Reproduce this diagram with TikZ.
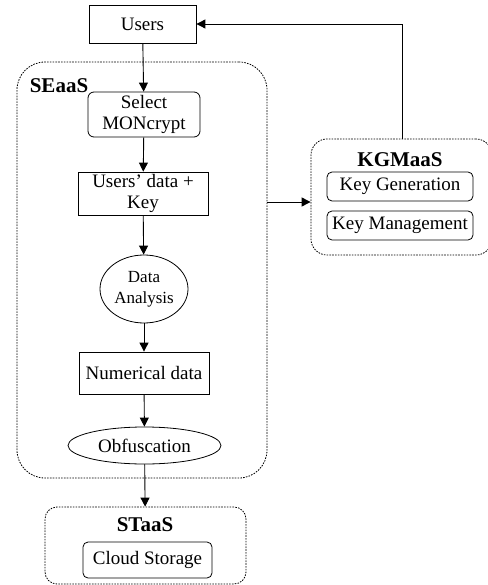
\documentclass[tikz,border=0pt]{standalone}
\usepackage{fontspec}
\setmainfont{Liberation Serif}
\usetikzlibrary{arrows.meta}
\usetikzlibrary{fit}
\usetikzlibrary{positioning}
\usetikzlibrary{shapes.geometric}

\tikzset{
  proc/.style={draw,rectangle,align=center,inner sep=1pt,font=\fontsize{19}{21}\selectfont},
  rproc/.style={proc,rounded corners=6pt},
  ellip/.style={draw,ellipse,align=center,inner sep=0pt,font=\fontsize{19}{21}\selectfont},
  group/.style={draw,dash pattern=on 1.6pt off 1.2pt,rectangle,inner sep=0pt},
  grouplab/.style={font=\fontsize{21}{23}\selectfont\bfseries},
  flow/.style={draw,line width=0.9pt,->,>={Triangle[length=9pt,width=9pt]}}
}

\begin{document}
\begin{tikzpicture}[x=1pt,y=1pt,line width=0.8pt]

  \useasboundingbox (0,0) rectangle (487,-585);

  % corners of the service groups
  \coordinate (se_nw) at (17,-62);
  \coordinate (se_se) at (267,-478);
  \coordinate (st_nw) at (45,-507);
  \coordinate (st_se) at (246,-584);
  \coordinate (kg_nw) at (311,-139);
  \coordinate (kg_se) at (492,-255);

  \node [group,rounded corners=28pt,fit=(se_nw) (se_se)] (seaas) {};
  \node [group,rounded corners=12pt,fit=(st_nw) (st_se)] (staas) {};
  \node [group,rounded corners=16pt,fit=(kg_nw) (kg_se)] (kgmaas) {};

  \node [grouplab] (seaaslab) at (59,-86) {SEaaS};
  \node [grouplab] (staaslab) at (145,-525) {STaaS};
  \node [grouplab] (kgmaaslab) at (400,-160) {KGMaaS};

  \node [proc,minimum width=107pt,minimum height=38pt] (users) at (142.5,-24) {Users};
  \node [rproc,minimum width=112pt,minimum height=45pt] (select) at (144,-114.5) {Select\\MONcrypt};
  \node [proc,minimum width=130pt,minimum height=43pt] (usersdata) at (143,-193.5) {Users' data +\\Key};
  \node [ellip,minimum width=88pt,minimum height=68pt,font=\fontsize{17}{21}\selectfont] (analysis) at (144,-289) {Data\\Analysis};
  \node [proc,minimum width=130pt,minimum height=42pt] (numerical) at (144,-373) {Numerical data};
  \node [ellip,minimum width=153pt,minimum height=37pt] (obfus) at (144.5,-445.5) {Obfuscation};

  \node [rproc,rounded corners=5pt,minimum width=129pt,minimum height=36pt] (cloud) at (147.5,-560) {Cloud Storage};
  \node [rproc,rounded corners=5pt,minimum width=146pt,minimum height=29pt] (keygen) at (400,-186.5) {Key Generation};
  \node [rproc,rounded corners=5pt,minimum width=146pt,minimum height=29pt] (keymgmt) at (400,-225.5) {Key Management};

  \path [flow]
    (users) edge (select)
    (select) edge (usersdata)
    (usersdata) edge (analysis)
    (analysis) edge (numerical)
    (numerical) edge (obfus)
    (obfus) edge (staas);

  \coordinate (kgtop) at (402,-139);
  \path [flow] (seaas.east |- 0,-202) -- (kgmaas.west |- 0,-202);
  \path [flow] (kgtop) |- (users.east);

\end{tikzpicture}
\end{document}
